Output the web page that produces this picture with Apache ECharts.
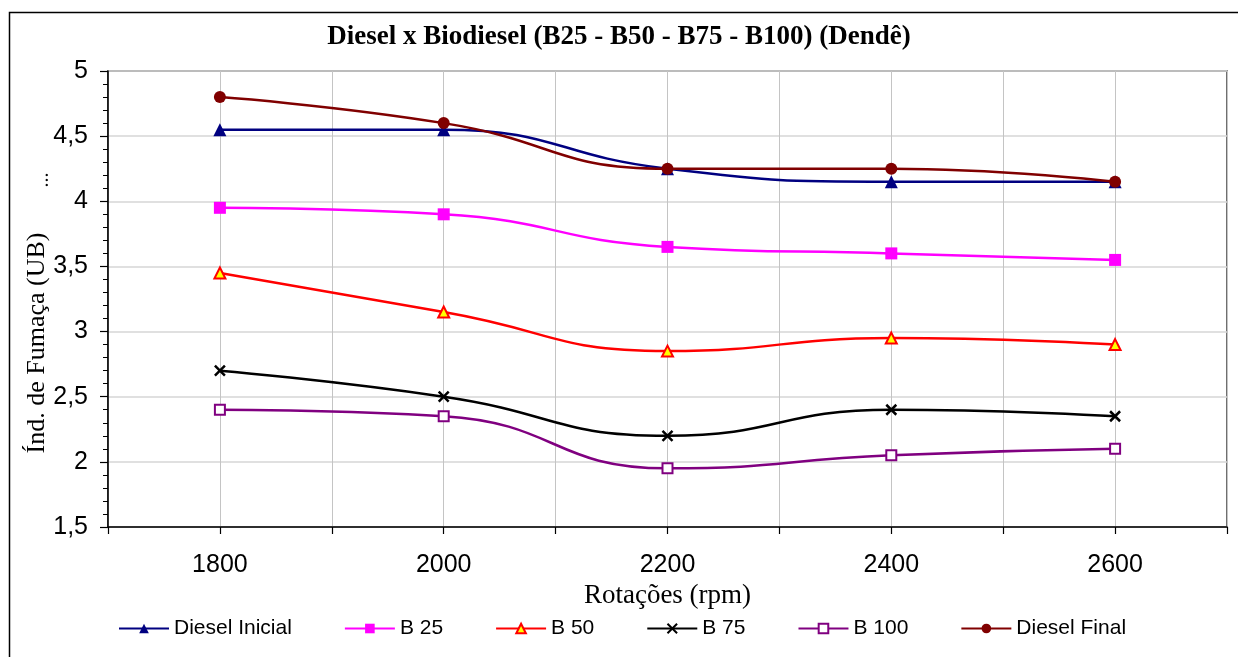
<!DOCTYPE html>
<html>
<head>
<meta charset="utf-8">
<script src="https://cdn.jsdelivr.net/npm/echarts@6/dist/echarts.min.js"></script>
<style>
html,body{margin:0;padding:0;background:#fff;}
#chart{width:1238px;height:657px;}
</style>
</head>
<body>
<div id="chart"></div>
<script>
// ---- data ----
const rpm = [1800, 2000, 2200, 2400, 2600];
const dieselInicial = [4.55, 4.55, 4.25, 4.15, 4.15];
const b25 = [3.95, 3.90, 3.65, 3.60, 3.55];
const b50 = [3.45, 3.15, 2.85, 2.95, 2.90];
const b75 = [2.70, 2.50, 2.20, 2.40, 2.35];
const b100 = [2.40, 2.35, 1.95, 2.05, 2.10];
const dieselFinal = [4.80, 4.60, 4.25, 4.25, 4.15];
const xLabelsShown = [1800, 2000, 2200, 2400, 2600];
const titleText = 'Diesel x Biodiesel (B25 - B50 - B75 - B100) (Dendê)';
const xName = 'Rotações (rpm)';
const yName = 'Índ. de Fumaça (UB)';

const pair = arr => rpm.map((x, i) => [x, arr[i]]);
const SANS = 'Liberation Sans, Arial, sans-serif';
const SERIF = 'Liberation Serif, Times New Roman, serif';

function mk(name, data, color, symbol, size, itemStyle) {
  return {
    name, type: 'line', data: pair(data), smooth: 0.5,
    symbol, symbolSize: size, showSymbol: true,
    lineStyle: { color, width: 2.5 },
    itemStyle: Object.assign({ color, borderColor: color, borderWidth: 0 }, itemStyle || {}),
    emphasis: { disabled: true },
    z: 3
  };
}

const series = [
  mk('Diesel Inicial', dieselInicial, '#000080', 'triangle', 13),
  mk('B 25', b25, '#FF00FF', 'rect', 12),
  mk('B 50', b50, '#FF0000', 'triangle', 11, { color: '#FFFF00', borderColor: '#FF0000', borderWidth: 2 }),
  mk('B 75', b75, '#000000', 'path://M0,0L10,10M10,0L0,10', 10, { color: '#000000', borderColor: '#000000', borderWidth: 2.5 }),
  mk('B 100', b100, '#800080', 'rect', 10, { color: '#ffffff', borderColor: '#800080', borderWidth: 2 }),
  mk('Diesel Final', dieselFinal, '#800000', 'circle', 12)
];

const chart = echarts.init(document.getElementById('chart'), null, { renderer: 'canvas' });
chart.setOption({
  animation: false,
  backgroundColor: '#ffffff',
  title: {
    text: titleText, left: 'center', top: 19,
    textStyle: { fontFamily: SERIF, fontWeight: 'bold', fontSize: 27, color: '#000' }
  },
  grid: {
    left: 108, top: 71, right: 11, bottom: 130,
    show: true, borderColor: '#404040', borderWidth: 1.5, backgroundColor: 'transparent'
  },
  legend: {
    left: 113, top: 613,
    itemWidth: 50, itemHeight: 12, itemGap: 52,
    textStyle: { fontFamily: SANS, fontSize: 21, color: '#000' },
    data: series.map(s => s.name)
  },
  xAxis: {
    type: 'value', min: 1700, max: 2700, interval: 100,
    name: xName, nameLocation: 'middle', nameGap: 54,
    nameTextStyle: { fontFamily: SERIF, fontSize: 27, color: '#000' },
    axisLine: { show: true, onZero: false, lineStyle: { color: '#000', width: 1.5 } },
    axisTick: { show: true, inside: false, length: 7, lineStyle: { color: '#000', width: 1.2 } },
    axisLabel: {
      margin: 26, fontFamily: SANS, fontSize: 25, color: '#000',
      formatter: v => (xLabelsShown.indexOf(v) >= 0 ? String(v) : '')
    },
    splitLine: { show: true, lineStyle: { color: '#c4c4c4', width: 1 } }
  },
  yAxis: {
    type: 'value', min: 1.5, max: 5, interval: 0.5,
    axisLine: { show: true, lineStyle: { color: '#000', width: 1.5 } },
    axisTick: { show: true, inside: false, length: 8, lineStyle: { color: '#000', width: 1.2 } },
    minorTick: { show: true, splitNumber: 5, length: 5, lineStyle: { color: '#000', width: 1 } },
    axisLabel: {
      margin: 20, fontFamily: SANS, fontSize: 25, color: '#000',
      formatter: v => String(Math.round(v * 10) / 10).replace('.', ',')
    },
    splitLine: { show: true, lineStyle: { color: '#d6d6d6', width: 1.5 } }
  },
  graphic: [
    {
      type: 'rect', left: 7, top: 10, z: -10, silent: true,
      shape: { x: 0, y: 0, width: 1260, height: 680 },
      style: { fill: 'none', stroke: '#000', lineWidth: 1.5 }
    },
    {
      type: 'text', x: 37, y: 343, rotation: Math.PI / 2, silent: true,
      style: { text: yName, font: '26px ' + SERIF, fill: '#000', textAlign: 'center', textVerticalAlign: 'middle' }
    },
    {
      type: 'text', x: 43, y: 180, rotation: Math.PI / 2, silent: true,
      style: { text: '...', font: '20px ' + SERIF, fill: '#000', textAlign: 'center', textVerticalAlign: 'middle' }
    }
  ],
  series
});
</script>
</body>
</html>
